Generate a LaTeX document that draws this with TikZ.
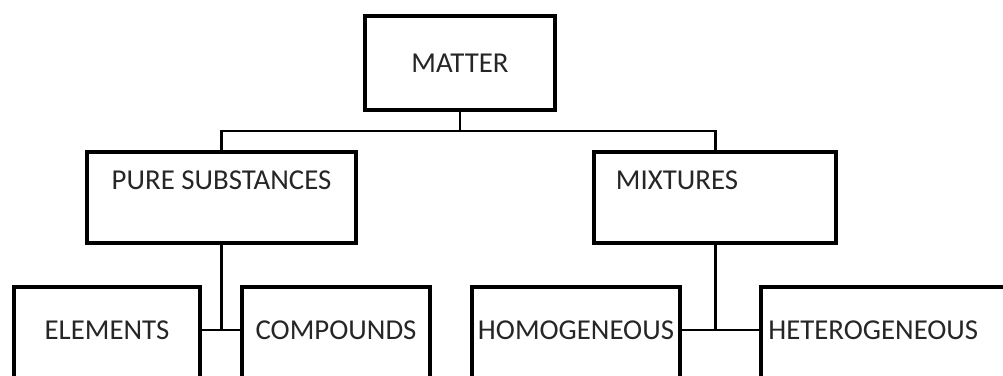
\documentclass[tikz,border=0pt]{standalone}
\usepackage{fontspec}
\setmainfont{Carlito}
\usepackage{tikz}
\usetikzlibrary{positioning}

\begin{document}
\begin{tikzpicture}[
    box/.style={draw, line width=2.3pt, inner sep=0pt},
    lbl/.style={font=\fontsize{16.4}{20}\selectfont, inner sep=0pt, text=black!85},
    link/.style={line width=1.7pt}
  ]
    \clip (0,0) rectangle (20.06,7.5);

    \node[box, minimum width=3.8cm, minimum height=1.88cm] (matter) at (9.2,6.24) {};
    \node[box, minimum width=5.38cm, minimum height=1.82cm] (pure) at (4.43,3.55) {};
    \node[box, minimum width=4.84cm, minimum height=1.82cm] (mix) at (14.3,3.55) {};

    \node[box, minimum width=3.72cm, minimum height=2.4cm, anchor=north] (elem) at (2.14,1.8) {};
    \node[box, minimum width=3.76cm, minimum height=2.4cm, anchor=north] (comp) at (6.72,1.8) {};
    \node[box, minimum width=4.16cm, minimum height=2.4cm, anchor=north] (homo) at (11.52,1.8) {};
    \node[box, minimum width=5.2cm, minimum height=2.4cm, anchor=north west] (hetero) at (15.18,1.8) {};

    \node[lbl] (matter-t) at (matter) {MATTER};
    \node[lbl] (pure-t) at (4.43,3.9) {PURE SUBSTANCES};
    \node[lbl] (mix-t) at (13.54,3.9) {MIXTURES};
    \node[lbl] (elem-t) at (2.14,0.9) {ELEMENTS};
    \node[lbl] (comp-t) at (6.72,0.9) {COMPOUNDS};
    \node[lbl] (homo-t) at (11.52,0.9) {HOMOGENEOUS};
    \node[lbl, anchor=west] (hetero-t) at (15.36,0.9) {HETEROGENEOUS};

    \coordinate (bus) at (9.2,4.88);
    \coordinate (pjoin) at (4.43,0.9);
    \coordinate (mjoin) at (14.3,0.9);

    \draw[link] (matter.south) -- (bus);
    \draw[link] (pure.north) |- (bus) -| (mix.north);
    \draw[link] (pure.south) -- (pjoin);
    \draw[link] (elem.east |- pjoin) -- (comp.west |- pjoin);
    \draw[link] (mix.south) -- (mjoin);
    \draw[link] (homo.east |- mjoin) -- (hetero.west |- mjoin);
  \end{tikzpicture}
\end{document}
